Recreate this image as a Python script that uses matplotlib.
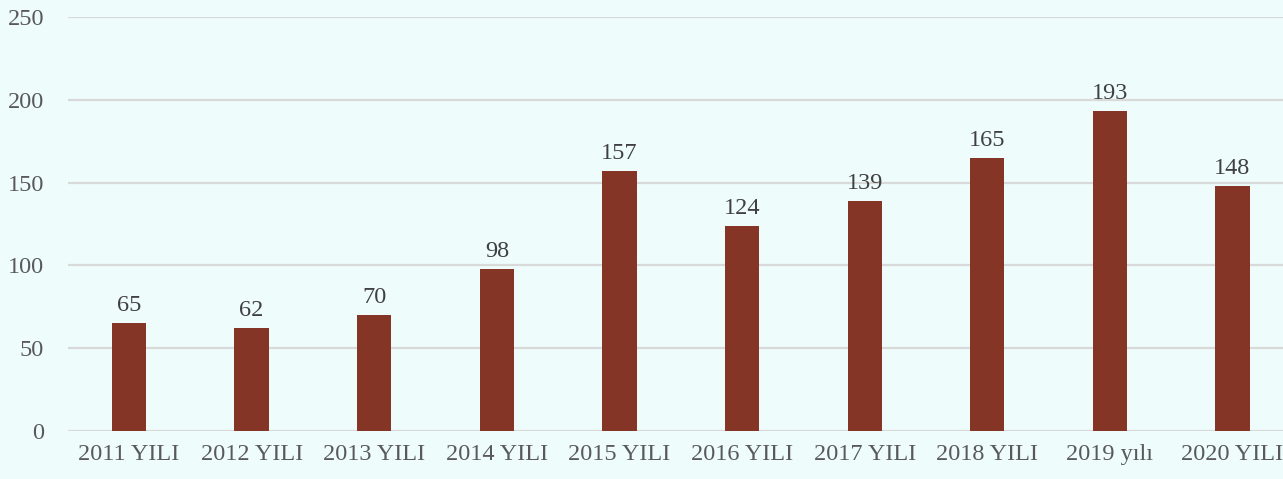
import matplotlib.pyplot as plt
import numpy as np

years = ['2011 YILI', '2012 YILI', '2013 YILI', '2014 YILI', '2015 YILI',
         '2016 YILI', '2017 YILI', '2018 YILI', '2019 yılı', '2020 YILI']
counts = [65, 62, 70, 98, 157, 124, 139, 165, 193, 148]

bg = '#EEFCFC'
bar_col = '#853526'
txt_col = '#595959'

plt.rcParams['font.family'] = ['Liberation Serif', 'DejaVu Serif']

fig = plt.figure(figsize=(12.83, 4.79), dpi=100, facecolor=bg)
ax = fig.add_axes([0.0528, 0.1002, 0.9556, 0.8643], facecolor=bg)

x = np.arange(len(years))
bars = ax.bar(x, counts, width=0.28, color=bar_col, zorder=3)
for b, v in zip(bars, counts):
    ax.annotate(str(v), (b.get_x() + b.get_width() / 2, v), xytext=(0, 5),
                textcoords='offset points', ha='center', va='bottom',
                fontsize=17.5, color='#404040')

ax.set_xlim(-0.5, len(years) - 0.5)
ax.set_ylim(0, 250)
ax.set_yticks(range(0, 251, 50))
ax.set_xticks(x)
ax.set_xticklabels(years)
ax.yaxis.grid(True, color='#D9D9D9', linewidth=1.6, zorder=0)
for s in ax.spines.values():
    s.set_visible(False)
ax.tick_params(length=0, labelsize=17.5, labelcolor=txt_col)
ax.tick_params(axis='y', pad=17)
ax.tick_params(axis='x', pad=9)

fig.savefig('out.png', dpi=100, facecolor=bg)
